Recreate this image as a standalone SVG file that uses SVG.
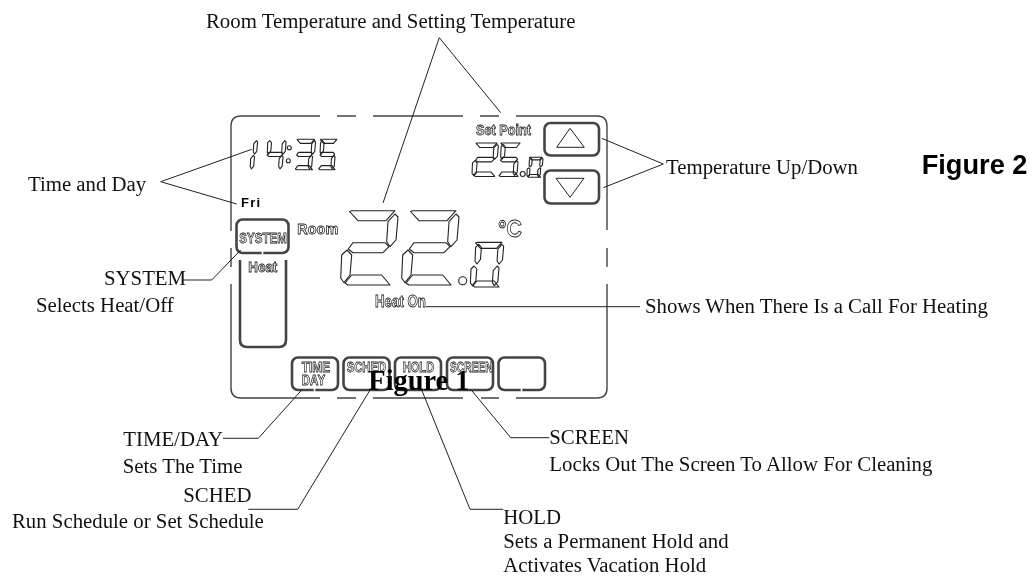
<svg xmlns="http://www.w3.org/2000/svg" width="1033" height="576" viewBox="0 0 1033 576">
<style>
text{filter:url(#g)}
.t{font-family:"Liberation Serif","Times New Roman",serif;font-size:20.8px;fill:#111}
.l{font-family:"Liberation Sans",Arial,sans-serif;font-weight:bold;fill:#fff;stroke:#222;stroke-width:.8px}
defs path{fill:none;stroke:#222;stroke-width:1.1;stroke-linejoin:round;vector-effect:non-scaling-stroke}
.s{fill:none;stroke:#222;stroke-width:1.1}
.c{fill:none;stroke:#222;stroke-width:1}
.b{fill:none;stroke:#444;stroke-width:2.6}
.f{fill:none;stroke:#444;stroke-width:1.4}
.n{stroke:#fff;stroke-width:1.6;fill:none}
</style>
<defs>
<filter id="g" filterUnits="userSpaceOnUse" x="0" y="0" width="1033" height="576"><feOffset dx="0" dy="0"/></filter>
<path id="A" d="M9.5,1.5L12,.7H55L46,10.700H18Z"/>
<path id="B" d="M55,4L58,7L56,30L50,36.700L46.700,31.700L48,11.700Z"/>
<path id="C" d="M47,40L50,43L48,66L42,72.700L38.700,67.700L40,47.700Z"/>
<path id="D" d="M5,73L11.700,65H41.700L50,75H8Z"/>
<path id="E" d="M1.700,45L7,40L11.700,45L10,65L4,72.700L.7,68Z"/>
<path id="F" d="M9.700,9L15,4L19.700,9L18,29L12,36.700L8.700,32Z"/>
<path id="G" d="M8.300,39L13,32.700H45L49,36.700L43,42.700H13Z"/>
<g id="two"><use href="#A"/><use href="#B"/><use href="#G"/><use href="#E"/><use href="#D"/></g>
<g id="three"><use href="#A"/><use href="#B"/><use href="#G"/><use href="#C"/><use href="#D"/></g>
<g id="four"><use href="#F"/><use href="#B"/><use href="#G"/><use href="#C"/></g>
<g id="five"><use href="#A"/><use href="#F"/><use href="#G"/><use href="#C"/><use href="#D"/></g>
<g id="zero"><use href="#A"/><use href="#B"/><use href="#F"/><use href="#E"/><use href="#C"/><use href="#D"/></g>
<g id="one"><use href="#B"/><use href="#C"/></g>
</defs>
<g id="frame">
<path class="f" d="M231,231V126Q231,116 241,116H320M337,116H356M373,116H463M480,116H499M516,116H597Q607,116 607,126V230M607,248V267M607,284V388Q607,398 597,398H516M499,398H481M463,398H373M356,398H337M320,398H241Q231,398 231,388V284M231,267V248"/>
</g>
<g id="clock">
<use href="#one" transform="translate(235.500,139) scale(.38,.41)"/>
<use href="#four" transform="translate(264,139) scale(.38,.41)"/>
<circle class="s" cx="289.300" cy="147.700" r="2"/><circle class="s" cx="288.300" cy="160.700" r="2"/>
<use href="#three" transform="translate(293.500,139) scale(.38,.41)"/>
<use href="#five" transform="translate(317,139) scale(.36,.41)"/>
<text x="241" y="206.500" font-family="Liberation Sans,Arial,sans-serif" font-weight="bold" font-size="13" letter-spacing="1.200">Fri</text>
</g>
<g id="room-temp">
<use href="#two" transform="translate(340,210)"/>
<use href="#two" transform="translate(401,210)"/>
<circle class="s" cx="462.700" cy="280.700" r="4"/>
<use href="#zero" transform="translate(470,242) scale(.58,.6)"/>
<text class="l" x="297.300" y="234.300" font-size="15.500" textLength="41" lengthAdjust="spacingAndGlyphs">Room</text>
<text class="l" x="498" y="237" font-size="24" textLength="24" lengthAdjust="spacingAndGlyphs">°C</text>
</g>
<g id="setpoint">
<text class="l" x="476" y="135" font-size="14.500" textLength="55" lengthAdjust="spacingAndGlyphs">Set Point</text>
<use href="#two" transform="translate(471.700,142.700) scale(.46,.45)"/>
<use href="#five" transform="translate(497,142.700) scale(.42,.45)"/>
<circle class="s" cx="522.700" cy="174" r="2.500"/>
<use href="#zero" transform="translate(526.700,157) scale(.28,.27)"/>
</g>
<g id="btn-up"><rect class="b" x="544.500" y="123" width="54.500" height="32.500" rx="6"/><path class="c" d="M570,128.300L584.300,147.300H556.700Z"/></g>
<g id="btn-down"><rect class="b" x="544.500" y="170.500" width="54.500" height="33" rx="6"/><path class="c" d="M556,178.300H584L570,197.300Z"/></g>
<g id="btn-system"><rect class="b" x="236.500" y="219.500" width="52" height="33.500" rx="6"/><path class="n" d="M262.500,250.500V255.500"/><text class="l" x="239.300" y="243.300" font-size="15" textLength="47.500" lengthAdjust="spacingAndGlyphs">SYSTEM</text></g>
<g id="heat-panel"><path class="b" d="M240,260V340Q240,347 247,347H279Q286,347 286,340V260"/><text class="l" x="248.300" y="271.700" font-size="14.500" textLength="29" lengthAdjust="spacingAndGlyphs">Heat</text></g>
<text id="heat-on" class="l" x="375" y="306.500" font-size="16" textLength="51" lengthAdjust="spacingAndGlyphs">Heat On</text>
<g id="btn-time"><rect class="b" x="292" y="357.500" width="46" height="32.500" rx="6"/><path class="n" d="M314.500,388V392"/><text class="l" x="301.700" y="371.700" font-size="15" textLength="28.500" lengthAdjust="spacingAndGlyphs">TIME</text><text class="l" x="301.700" y="385" font-size="15" textLength="23.500" lengthAdjust="spacingAndGlyphs">DAY</text></g>
<g id="btn-sched"><rect class="b" x="343.500" y="357.500" width="46" height="32.500" rx="6"/><text class="l" x="346.700" y="371.500" font-size="15" textLength="39.500" lengthAdjust="spacingAndGlyphs">SCHED</text></g>
<g id="btn-hold"><rect class="b" x="395" y="357.500" width="46" height="32.500" rx="6"/><text class="l" x="402.700" y="371.500" font-size="15" textLength="31.500" lengthAdjust="spacingAndGlyphs">HOLD</text></g>
<g id="btn-screen"><rect class="b" x="447" y="357.500" width="46" height="32.500" rx="6"/><text class="l" x="450" y="371.500" font-size="15" textLength="42.500" lengthAdjust="spacingAndGlyphs">SCREEN</text></g>
<g id="btn-blank"><rect class="b" x="498.500" y="357.500" width="46.500" height="32.500" rx="6"/><path class="n" d="M521.500,388V392"/></g>
<g id="connectors">
<path class="c" d="M383,203L439.300,37.700L500.700,112.700"/>
<path class="c" d="M601.700,138.300L663.300,164L603.300,187.700"/>
<path class="c" d="M251.700,149.300L160.700,181.700L236.700,204"/>
<path class="c" d="M240.700,250L211.700,280H181.700"/>
<path class="c" d="M426,306.700H640"/>
<path class="c" d="M301.700,390L258.300,438.300H223"/>
<path class="c" d="M370,390L297.700,509.300H248.300"/>
<path class="c" d="M421.700,390L470,509.300H503.300"/>
<path class="c" d="M470.700,389.300L510.700,437.700H549.300"/>
</g>
<g id="labels">
<text class="t" x="206" y="28">Room Temperature and Setting Temperature</text>
<text class="t" x="666" y="174">Temperature Up/Down</text>
<text class="t" x="28" y="191">Time and Day</text>
<text class="t" x="104" y="285">SYSTEM</text>
<text class="t" x="36" y="312.300">Selects Heat/Off</text>
<text class="t" x="645" y="313.300">Shows When There Is a Call For Heating</text>
<text class="t" x="123.300" y="446">TIME/DAY</text>
<text class="t" x="122.700" y="472.700">Sets The Time</text>
<text class="t" x="183.300" y="501.700">SCHED</text>
<text class="t" x="12" y="528.300">Run Schedule or Set Schedule</text>
<text class="t" x="503.300" y="524">HOLD</text>
<text class="t" x="503.300" y="548.300">Sets a Permanent Hold and</text>
<text class="t" x="503.300" y="571.700">Activates Vacation Hold</text>
<text class="t" x="549.300" y="444">SCREEN</text>
<text class="t" x="549.300" y="470.700">Locks Out The Screen To Allow For Cleaning</text>
<text x="368.300" y="390" font-family="Liberation Serif,serif" font-weight="bold" font-size="28.400" fill="#000">Figure 1</text>
<text x="921.700" y="174" font-family="Liberation Sans,Arial,sans-serif" font-weight="bold" font-size="27.200" fill="#000">Figure 2</text>
</g>
</svg>
